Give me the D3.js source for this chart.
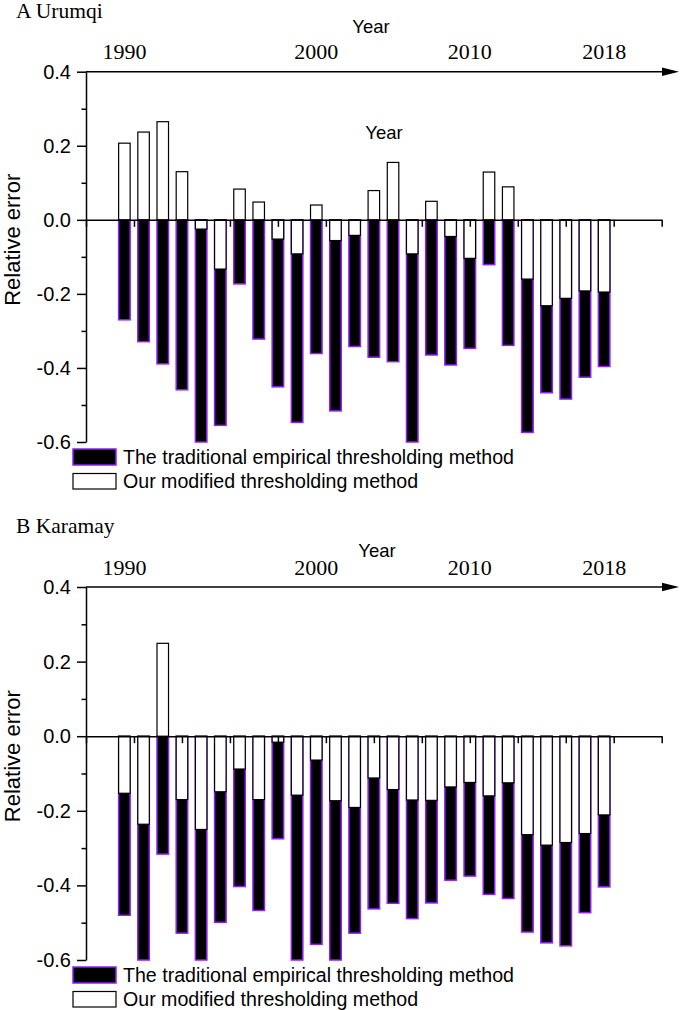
<!DOCTYPE html>
<html>
<head>
<meta charset="utf-8">
<script src="https://cdn.jsdelivr.net/npm/d3@7"></script>
<style>
  html, body { margin: 0; padding: 0; background: #fff; }
  svg { display: block; }
</style>
</head>
<body>
<svg id="chart" width="680" height="1010"></svg>
<script>
// ---------------- DATA ----------------
const years = [1990, 1991, 1992, 1993, 1994, 1995, 1996, 1997, 1998, 1999, 2000,
               2001, 2002, 2004, 2005, 2006, 2007, 2009, 2010,
               2011, 2013, 2014, 2015, 2016, 2017, 2018];
const yearTickLabels = [1990, 2000, 2010, 2018];
const yTicks = [-0.6, -0.4, -0.2, 0.0, 0.2, 0.4];
const yMinorTicks = [-0.5, -0.3, -0.1, 0.1, 0.3];

const urumqiTraditional = [-0.270, -0.329, -0.389, -0.459, -0.600, -0.555, -0.173, -0.322, -0.451, -0.547,
                           -0.361, -0.516, -0.342, -0.371, -0.383, -0.600, -0.365, -0.392, -0.347, -0.121,
                           -0.339, -0.574, -0.467, -0.484, -0.425, -0.396];
const urumqiModified    = [0.207, 0.237, 0.265, 0.130, -0.025, -0.133, 0.083, 0.048, -0.052, -0.092,
                           0.040, -0.056, -0.042, 0.079, 0.155, -0.092, 0.050, -0.045, -0.104, 0.129,
                           0.089, -0.160, -0.232, -0.212, -0.192, -0.195];
const karamayTraditional = [-0.480, -0.600, -0.316, -0.528, -0.600, -0.499, -0.403, -0.467, -0.275, -0.600,
                            -0.558, -0.600, -0.528, -0.463, -0.448, -0.489, -0.447, -0.386, -0.375, -0.424,
                            -0.435, -0.525, -0.554, -0.562, -0.473, -0.404];
const karamayModified    = [-0.153, -0.236, 0.249, -0.170, -0.250, -0.149, -0.088, -0.170, -0.016, -0.158,
                            -0.064, -0.173, -0.191, -0.112, -0.143, -0.171, -0.172, -0.136, -0.124, -0.160,
                            -0.125, -0.264, -0.292, -0.285, -0.261, -0.211];

const legendLabels = ["The traditional empirical thresholding method", "Our modified thresholding method"];

// ---------------- LAYOUT ----------------
const svg = d3.select("#chart");
const SANS = "'Liberation Sans', Arial, sans-serif";
const SERIF = "'Liberation Serif', 'Times New Roman', serif";
const PURPLE = "#8f1fff";

const panels = [
  { title: "A Urumqi", trad: urumqiTraditional, mod: urumqiModified,
    top: 71.7, bottom: 442, titleY: 18, yearTitleY: 32.5, yearTitleX: 371, innerYear: true },
  { title: "B Karamay", trad: karamayTraditional, mod: karamayModified,
    top: 587, bottom: 960, titleY: 533, yearTitleY: 556.5, yearTitleX: 377, innerYear: false }
];

const x = d3.scaleLinear().domain([-2, 28]).range([86, 661.7]);
const barW = (x(1) - x(0)) * 0.6;

panels.forEach(p => {
  const g = svg.append("g");
  const y = d3.scaleLinear().domain([-0.6, 0.4]).range([p.bottom, p.top]);

  // Panel title
  g.append("text").attr("x", 16).attr("y", p.titleY)
    .attr("font-family", SERIF).attr("font-size", 21.5).attr("fill", "#000")
    .text(p.title);

  // "Year" axis title
  g.append("text").attr("x", p.yearTitleX).attr("y", p.yearTitleY)
    .attr("text-anchor", "middle").attr("font-family", SANS).attr("font-size", 18.5)
    .text("Year");
  if (p.innerYear) {
    g.append("text").attr("x", 384).attr("y", 139)
      .attr("text-anchor", "middle").attr("font-family", SANS).attr("font-size", 18.5)
      .text("Year");
  }

  // Black bars (traditional)
  g.append("g").selectAll("rect").data(p.trad).join("rect")
    .attr("x", (d, i) => x(i) - barW / 2)
    .attr("width", barW)
    .attr("y", d => Math.min(y(0), y(d)))
    .attr("height", d => Math.abs(y(d) - y(0)))
    .attr("fill", "#000").attr("stroke", PURPLE).attr("stroke-width", 1.5);

  // White bars (modified)
  g.append("g").selectAll("rect").data(p.mod).join("rect")
    .attr("x", (d, i) => x(i) - barW / 2)
    .attr("width", barW)
    .attr("y", d => Math.min(y(0), y(d)))
    .attr("height", d => Math.abs(y(d) - y(0)))
    .attr("fill", "#fff").attr("stroke", "#000").attr("stroke-width", 1.2);

  // Y axis (major)
  const yAxis = d3.axisLeft(y).tickValues(yTicks).tickSize(9).tickSizeOuter(0).tickPadding(6)
    .tickFormat(d => d.toFixed(1));
  const ya = g.append("g").attr("transform", `translate(${x(-2)},0)`).call(yAxis);
  ya.selectAll("path, line").attr("stroke", "#000").attr("stroke-width", 1.5);
  ya.selectAll("text").attr("font-family", SANS).attr("font-size", 20).attr("fill", "#000");

  // Y axis minor ticks
  const yMinor = d3.axisLeft(y).tickValues(yMinorTicks).tickSize(4.5).tickSizeOuter(0).tickFormat("");
  const ym = g.append("g").attr("transform", `translate(${x(-2)},0)`).call(yMinor);
  ym.select("path").remove();
  ym.selectAll("line").attr("stroke", "#000").attr("stroke-width", 1.5);

  // Y axis label
  g.append("text")
    .attr("transform", `translate(20,${y(0) + 86}) rotate(-90)`)
    .attr("font-family", SANS).attr("font-size", 22).attr("fill", "#000")
    .text("Relative error");

  // Zero line axis with ticks
  const xAxis = d3.axisBottom(x).tickValues(d3.range(-2, 28.01, 2.5)).tickSize(7).tickSizeOuter(0).tickFormat("");
  const xa = g.append("g").attr("transform", `translate(0,${y(0)})`).call(xAxis);
  xa.selectAll("path, line").attr("stroke", "#000").attr("stroke-width", 1.5);

  // Top arrow axis
  const yTop = y(0.4);
  const tipX = 679, headLen = 17, headHalf = 4.2;
  g.append("line").attr("x1", x(-2)).attr("x2", tipX - headLen + 2)
    .attr("y1", yTop).attr("y2", yTop).attr("stroke", "#000").attr("stroke-width", 1.5);
  g.append("path")
    .attr("d", `M${tipX},${yTop} L${tipX - headLen},${yTop - headHalf} L${tipX - headLen},${yTop + headHalf} Z`)
    .attr("fill", "#000");

  // Year labels on top axis
  g.append("g").selectAll("text").data(yearTickLabels).join("text")
    .attr("x", d => x(years.indexOf(d)))
    .attr("y", yTop - 12.5)
    .attr("text-anchor", "middle")
    .attr("font-family", SERIF).attr("font-size", 22).attr("fill", "#000")
    .text(d => d);

  // Legend
  const ly = p.bottom + 7;
  const lg = g.append("g");
  lg.append("rect").attr("x", 73).attr("y", ly).attr("width", 43).attr("height", 16)
    .attr("fill", "#000").attr("stroke", PURPLE).attr("stroke-width", 1.5);
  lg.append("text").attr("x", 123).attr("y", ly + 14.5)
    .attr("font-family", SANS).attr("font-size", 19.6).attr("fill", "#000").text(legendLabels[0]);
  lg.append("rect").attr("x", 73).attr("y", ly + 24.5).attr("width", 43).attr("height", 15.5)
    .attr("fill", "#fff").attr("stroke", "#000").attr("stroke-width", 1.2);
  lg.append("text").attr("x", 123).attr("y", ly + 38.5)
    .attr("font-family", SANS).attr("font-size", 19.6).attr("fill", "#000").text(legendLabels[1]);
});
</script>
</body>
</html>
